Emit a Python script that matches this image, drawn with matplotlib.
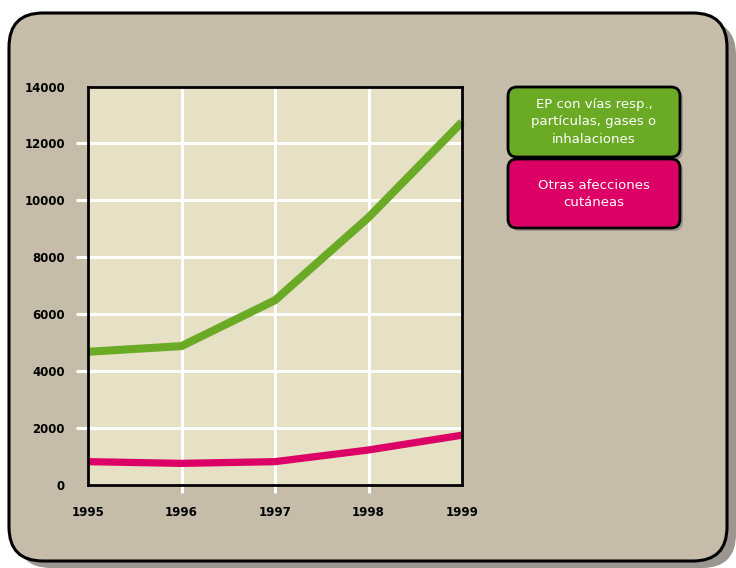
import matplotlib
matplotlib.use("Agg")
import matplotlib.pyplot as plt
from matplotlib.patches import FancyBboxPatch

years = [1995, 1996, 1997, 1998, 1999]
ep_resp = [4680, 4880, 6490, 9400, 12750]
otras_cutaneas = [820, 760, 820, 1230, 1750]
y_ticks = [0, 2000, 4000, 6000, 8000, 10000, 12000, 14000]
legend_labels = ["EP con vías resp.,\npartículas, gases o\ninhalaciones",
                 "Otras afecciones\ncutáneas"]

GREEN = "#6AAA25"
PINK = "#DC0066"
FRAME = "#C5BDA9"
PLOT_BG = "#E6E0C5"
SHADOW = "#9B968F"

W, H = 736, 568
fig = plt.figure(figsize=(W / 100, H / 100), dpi=100)
fig.patch.set_facecolor("white")

# background layer in pixel units (y down)
bg = fig.add_axes([0, 0, 1, 1], zorder=0)
bg.set_xlim(0, W)
bg.set_ylim(H, 0)
bg.axis("off")


def rbox(ax, x0, y0, x1, y1, r, fc, ec="none", lw=0):
    p = FancyBboxPatch((x0 + r, y0 + r), (x1 - x0) - 2 * r, (y1 - y0) - 2 * r,
                       boxstyle=f"round,pad={r},rounding_size={r}",
                       fc=fc, ec=ec, lw=lw)
    ax.add_patch(p)


# outer frame with shadow
rbox(bg, 17, 21, 736, 568, 34, SHADOW)
rbox(bg, 9, 13, 727, 561, 34, FRAME, "black", 2.2)

# legend boxes
rbox(bg, 511, 90, 683, 160, 9, SHADOW)
rbox(bg, 508, 87, 680, 157, 9, GREEN, "black", 2.0)
rbox(bg, 511, 162, 683, 231, 9, SHADOW)
rbox(bg, 508, 159, 680, 228, 9, PINK, "black", 2.0)
bg.text(594, 122, legend_labels[0], color="white", fontsize=9.5,
        ha="center", va="center", linespacing=1.45)
bg.text(594, 194, legend_labels[1], color="white", fontsize=9.5,
        ha="center", va="center", linespacing=1.45)

# plot area
left, right, top, bottom = 88, 462, 86.5, 485
ax = fig.add_axes([left / W, 1 - bottom / H, (right - left) / W, (bottom - top) / H],
                  zorder=2)
ax.set_facecolor(PLOT_BG)
ax.set_xlim(years[0], years[-1])
ax.set_ylim(0, 14000)
ax.set_xticks(years)
ax.set_yticks(y_ticks)
ax.set_xticklabels([str(y) for y in years])
ax.set_yticklabels([str(v) for v in y_ticks])
ax.grid(True, color="white", lw=2.2)
ax.set_axisbelow(True)
for s in ax.spines.values():
    s.set_color("black")
    s.set_linewidth(2.0)
ax.tick_params(axis="both", colors="white", width=2.2, labelcolor="black",
               labelsize=8.5)
ax.tick_params(axis="y", length=8.6, pad=8)
ax.tick_params(axis="x", length=6, pad=9)
for lab in ax.get_xticklabels() + ax.get_yticklabels():
    lab.set_fontweight("bold")

# no tick marks at the ends of the axes
for ticks in (ax.xaxis.get_major_ticks(), ax.yaxis.get_major_ticks()):
    ticks[0].tick1line.set_visible(False)
    ticks[-1].tick1line.set_visible(False)

ax.plot(years, ep_resp, color=GREEN, lw=5.8, solid_capstyle="butt", clip_on=False)
ax.plot(years, otras_cutaneas, color=PINK, lw=5.2, solid_capstyle="butt", clip_on=False)

fig.savefig("out.png", dpi=100)
